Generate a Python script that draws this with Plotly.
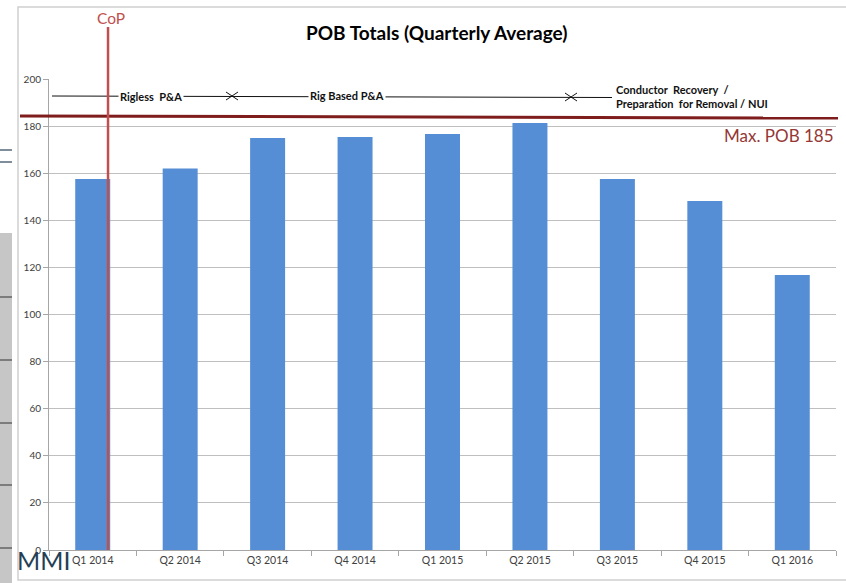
import plotly.graph_objects as go

quarters = ["Q1 2014", "Q2 2014", "Q3 2014", "Q4 2014", "Q1 2015",
            "Q2 2015", "Q3 2015", "Q4 2015", "Q1 2016"]
pob_avg = [157.5, 162, 175, 175.4, 176.6, 181.3, 157.5, 148.2, 116.8]
max_pob_line = 184
cop_position = 0.175  # category index position of CoP marker
y_ticks = [0, 20, 40, 60, 80, 100, 120, 140, 160, 180, 200]

W, H = 846, 583
L, R, T, B = 49, 10, 79, 33
PW, PH = W - L - R, H - T - B


def px(x):
    return (x - L) / PW


def py(y):
    return (H - B - y) / PH


FONT = "Lato, 'Open Sans', sans-serif"

fig = go.Figure()
fig.add_trace(go.Bar(x=quarters, y=pob_avg, marker_color="#558ed5",
                     marker_line_width=0, hoverinfo="x+y"))

shapes = []
# outer chart frame
shapes.append(dict(type="rect", xref="paper", yref="paper",
                   x0=px(18), x1=px(852), y0=py(580), y1=py(7),
                   line=dict(color="#d0d0d0", width=1.5), fillcolor="rgba(0,0,0,0)", layer="below"))
# left grey panel
shapes.append(dict(type="rect", xref="paper", yref="paper",
                   x0=px(-5), x1=px(12), y0=py(590), y1=py(233),
                   line=dict(width=0), fillcolor="#c6c6c6", layer="below"))
for yy in [297, 360, 423, 485, 548]:
    shapes.append(dict(type="line", xref="paper", yref="paper",
                       x0=px(0), x1=px(12), y0=py(yy), y1=py(yy),
                       line=dict(color="#333333", width=1)))
for yy in [150, 162]:
    shapes.append(dict(type="line", xref="paper", yref="paper",
                       x0=px(0), x1=px(12), y0=py(yy), y1=py(yy),
                       line=dict(color="#3b4f63", width=1.3)))
# activity timeline line
shapes.append(dict(type="line", xref="paper", yref="paper",
                   x0=px(52), x1=px(612), y0=py(96), y1=py(97.5),
                   line=dict(color="#111111", width=1)))
# X markers
for cx, cy in [(232, 96), (571, 97)]:
    shapes.append(dict(type="line", xref="paper", yref="paper",
                       x0=px(cx - 6), x1=px(cx + 6), y0=py(cy - 4), y1=py(cy + 4),
                       line=dict(color="#111111", width=1)))
    shapes.append(dict(type="line", xref="paper", yref="paper",
                       x0=px(cx - 6), x1=px(cx + 6), y0=py(cy + 4), y1=py(cy - 4),
                       line=dict(color="#111111", width=1)))
# Max POB line
shapes.append(dict(type="line", xref="paper", yref="y",
                   x0=px(20), x1=px(838), y0=max_pob_line + 0.3, y1=max_pob_line - 0.6,
                   line=dict(color="#7f1d1d", width=3)))
# CoP vertical line
shapes.append(dict(type="line", xref="x", yref="paper",
                   x0=cop_position, x1=cop_position, y0=0, y1=py(27),
                   line=dict(color="#c0504d", width=2.5)))


def ann(text, x, y, size, color, xanchor="center", **kw):
    return dict(text=text, xref="paper", yref="paper", x=px(x), y=py(y),
                xanchor=xanchor, yanchor="middle", showarrow=False,
                font=dict(family=FONT, size=size, color=color), **kw)


annotations = [
    ann("<b>POB Totals (Quarterly Average)</b>", 437, 32, 19, "#000000"),
    ann("CoP", 111, 18, 15.5, "#c0504d"),
    ann("Max. POB 185", 836, 135, 17, "#953735", xanchor="right"),
    ann("<b>Rigless\u00a0 P&A</b>", 151, 96, 11, "#111111", bgcolor="white", borderpad=1),
    ann("<b>Rig Based P&A</b>", 347, 95.5, 11, "#111111", bgcolor="white", borderpad=1),
    ann("<b>Conductor\u00a0 Recovery\u00a0 /<br>Preparation\u00a0 for Removal / NUI</b>",
        614, 96, 11, "#111111", xanchor="left", align="left"),
    ann("MMI", 15, 560, 25, "#243f55", xanchor="left"),
]

fig.update_layout(
    width=W, height=H,
    margin=dict(l=L, r=R, t=T, b=B, pad=0),
    paper_bgcolor="white", plot_bgcolor="white",
    showlegend=False, bargap=0.6,
    shapes=shapes, annotations=annotations,
    font=dict(family=FONT, size=10, color="#404040"),
)
fig.update_xaxes(type="category", range=[-0.5, 8.5], showline=True, linecolor="#a6a6a6",
                 linewidth=1, ticks="outside", tickson="boundaries", ticklen=5,
                 tickcolor="#a6a6a6", showgrid=False,
                 tickfont=dict(family=FONT, size=10.5, color="#404040"))
fig.update_yaxes(range=[0, 200], tickvals=y_ticks, showline=True, linecolor="#a6a6a6",
                 linewidth=1, ticks="outside", ticklen=5, tickcolor="#a6a6a6",
                 showgrid=True, gridcolor="#bfbfbf", gridwidth=1, zeroline=False,
                 tickfont=dict(family=FONT, size=10, color="#404040"))

fig.write_html("out.html", config={"displayModeBar": False},
               post_script="document.body.style.margin='0';document.body.style.overflow='hidden';")
